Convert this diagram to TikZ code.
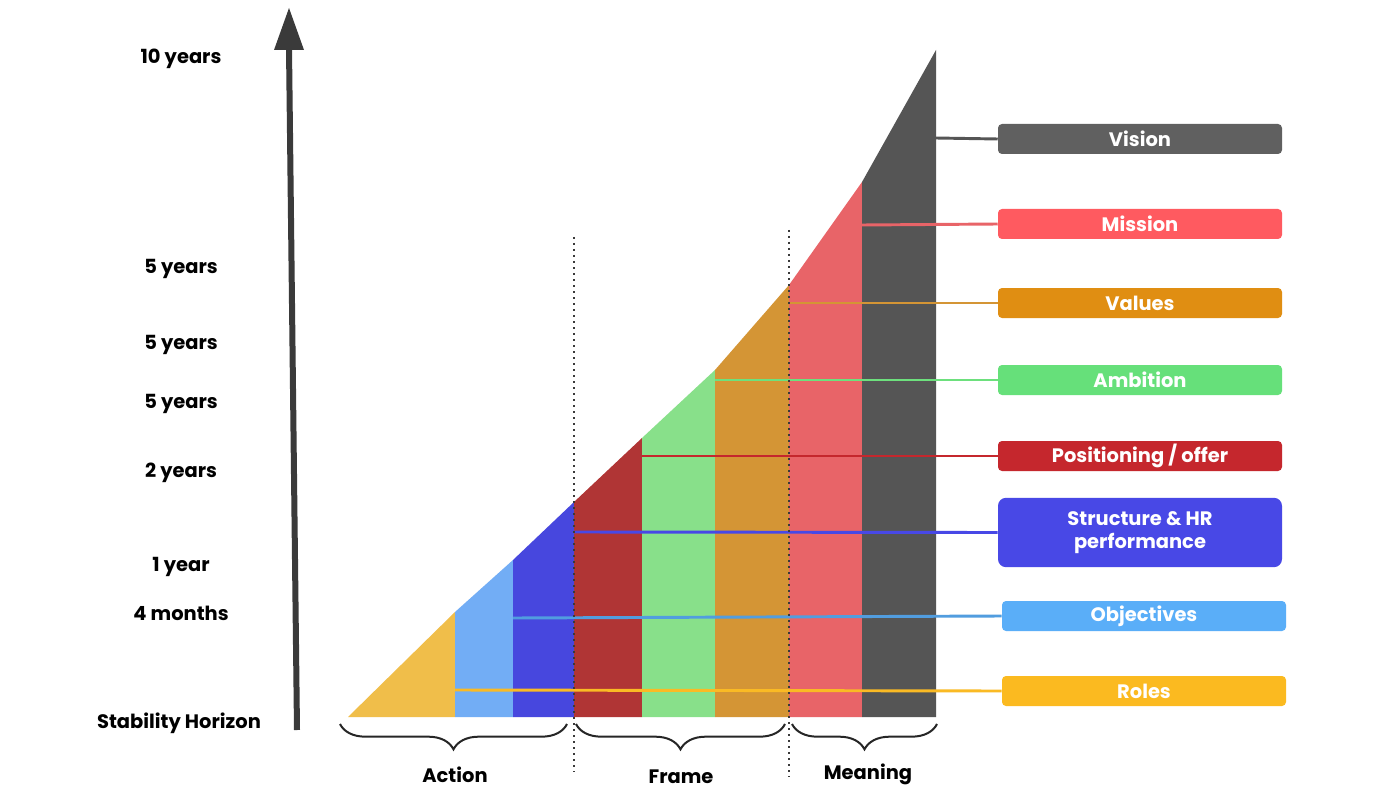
\documentclass[tikz,border=0pt]{standalone}
\usepackage{fontspec}
\setmainfont{Poppins}
\usetikzlibrary{decorations.pathreplacing}
\definecolor{cYellow}{HTML}{F0BE4A}
\definecolor{cLBlue}{HTML}{72ADF5}
\definecolor{cBlue}{HTML}{4747DE}
\definecolor{cDRed}{HTML}{B03535}
\definecolor{cGreen}{HTML}{88E08A}
\definecolor{cOrange}{HTML}{D49535}
\definecolor{cPink}{HTML}{E86468}
\definecolor{cGray}{HTML}{555555}
\definecolor{bVision}{HTML}{606060}
\definecolor{bMission}{HTML}{FF5A60}
\definecolor{bValues}{HTML}{E08E12}
\definecolor{bAmbition}{HTML}{66E07A}
\definecolor{bPos}{HTML}{C5272D}
\definecolor{bStruct}{HTML}{4848E6}
\definecolor{bObj}{HTML}{5AAEF8}
\definecolor{bRoles}{HTML}{FBBA20}
\definecolor{axisc}{HTML}{3A3A3A}
\tikzset{
  labelbox/.style={rounded corners=3pt, minimum width=213pt, minimum height=22.5pt,
    inner sep=0pt, text=white, font=\fontsize{14.6}{17}\selectfont\bfseries, align=center},
  timelabel/.style={font=\fontsize{14.6}{17}\selectfont\bfseries, text=black, inner sep=0pt},
  bracelabel/.style={font=\fontsize{14.6}{17}\selectfont\bfseries, text=black, inner sep=0pt},
  conn/.style={line width=2.2pt},
  dotline/.style={line width=1.5pt, color=axisc, dash pattern=on 1.4pt off 3.1pt},
  bracestyle/.style={decorate, decoration={brace, mirror, amplitude=19pt}, line width=1.5pt, color=black!85},
}
\begin{document}
\begin{tikzpicture}[x=0.75pt,y=-0.75pt]
\useasboundingbox (0,0) rectangle (1400,788);
\fill[white] (0,0) rectangle (1400,788);

% columns
\fill[cYellow] (348,717) -- (455,612) -- (455,717) -- cycle;
\fill[cLBlue] (455,717) -- (455,612) -- (513,560) -- (513,717) -- cycle;
\fill[cBlue] (513,717) -- (513,560) -- (574,502) -- (574,717) -- cycle;
\fill[cDRed] (574,717) -- (574,502) -- (642,438) -- (642,717) -- cycle;
\fill[cGreen] (642,717) -- (642,438) -- (715,370) -- (715,717) -- cycle;
\fill[cOrange] (715,717) -- (715,370) -- (789,285) -- (789,717) -- cycle;
\fill[cPink] (789,717) -- (789,285) -- (862,182) -- (862,717) -- cycle;
\fill[cGray] (862,717) -- (862,182) -- (936,50) -- (936,717) -- cycle;

% boxes
\node[labelbox, fill=bVision] (vision) at (1140,139) {Vision};
\node[labelbox, fill=bMission] (mission) at (1140,224) {Mission};
\node[labelbox, fill=bValues] (values) at (1140,303) {Values};
\node[labelbox, fill=bAmbition] (ambition) at (1140,380) {Ambition};
\node[labelbox, fill=bPos] (positioning) at (1140,456) {Positioning / offer};
\node[labelbox, fill=bStruct, minimum height=52pt, rounded corners=6pt] (structure) at (1140,532.5) {Structure \& HR\\performance};
\node[labelbox, fill=bObj] (objectives) at (1144,616) {Objectives};
\node[labelbox, fill=bRoles] (roles) at (1144,691) {Roles};

% connector start points
\coordinate (visionS) at (936,138);
\coordinate (missionS) at (862,225);
\coordinate (valuesS) at (789,303);
\coordinate (ambitionS) at (715,380);
\coordinate (positioningS) at (642,456);
\coordinate (structureS) at (574,532);
\coordinate (objectivesS) at (513,618);
\coordinate (rolesS) at (455,690);

\draw[conn, color=cGray] (visionS) -- (vision.west);
\draw[conn, color=cPink] (missionS) -- (mission.west);
\draw[conn, color=cOrange] (valuesS) -- (values.west);
\draw[conn, color=bAmbition!80!cGreen] (ambitionS) -- (ambition.west);
\draw[conn, color=bPos] (positioningS) -- (positioning.west);
\draw[conn, color=bStruct] (structureS) -- (structure.west);
\draw[conn, color=bObj!90!black] (objectivesS) -- (objectives.west);
\draw[conn, color=bRoles!90!cYellow] (rolesS) -- (roles.west);

% dotted separators
\coordinate (d1t) at (574,237);
\coordinate (d1b) at (574,772);
\coordinate (d2t) at (789,230);
\coordinate (d2b) at (789,777);
\draw[dotline] (d1t) -- (d1b);
\draw[dotline] (d2t) -- (d2b);

% braces
\coordinate (a1) at (340,724);
\coordinate (a2) at (567,724);
\coordinate (f1) at (576,724);
\coordinate (f2) at (785,724);
\coordinate (m1) at (792,724);
\coordinate (m2) at (937,724);
\draw[bracestyle] (a1) -- (a2);
\draw[bracestyle] (f1) -- (f2);
\draw[bracestyle] (m1) -- (m2);
\node[bracelabel] (action) at (455,775) {Action};
\node[bracelabel] (frame) at (681,777) {Frame};
\node[bracelabel] (meaning) at (868,774) {Meaning};

% axis arrow
\coordinate (axb) at (297,730);
\coordinate (axt) at (289,48);
\draw[line width=4.5pt, color=axisc] (axb) -- (axt);
\fill[axisc] (289,8) -- (304,50) -- (274,50) -- cycle;

% time labels
\node[timelabel] (t10) at (181,59) {10 years};
\node[timelabel] (t5a) at (181,269) {5 years};
\node[timelabel] (t5b) at (181,345) {5 years};
\node[timelabel] (t5c) at (181,404) {5 years};
\node[timelabel] (t2) at (181,473) {2 years};
\node[timelabel] (t1) at (181,567) {1 year};
\node[timelabel] (t4m) at (181,613) {4 months};
\node[timelabel] (tsh) at (179,723) {Stability Horizon};
\end{tikzpicture}
\end{document}
